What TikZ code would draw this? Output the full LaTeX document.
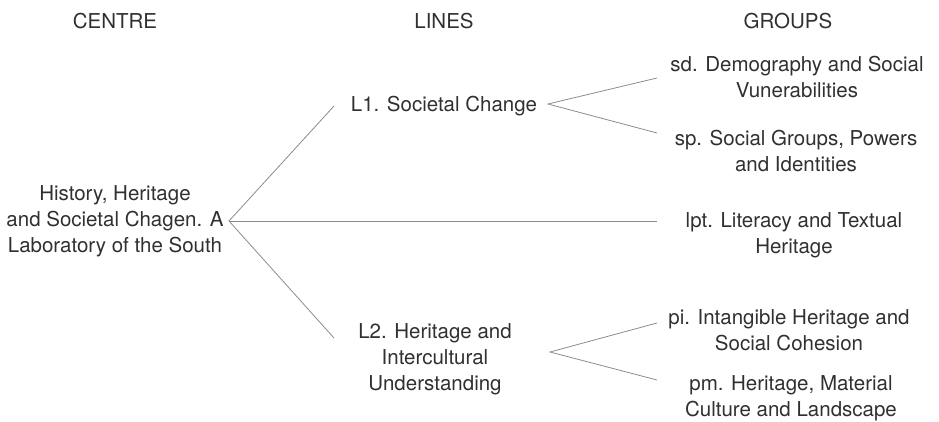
\documentclass[tikz,border=0pt]{standalone}
\usepackage{fontspec}
\setmainfont{TeX Gyre Heros}
\definecolor{textc}{HTML}{303030}
\definecolor{linec}{HTML}{8C8C8C}
\begin{document}
\begin{tikzpicture}[x=1pt,y=-1pt,
  txt/.style={font=\fontsize{20.5}{26}\selectfont, text=textc, align=center, inner sep=0pt, anchor=base},
  link/.style={draw=linec, line width=0.8pt}]
\useasboundingbox (0,0) rectangle (939,422);
% headers
\node[txt] (hc) at (115,29) {CENTRE};
\node[txt] (hl) at (444,29) {LINES};
\node[txt] (hg) at (788,29) {GROUPS};
% nodes (anchor = baseline of the last line)
\node[txt] (centre) at (115,252) {History, Heritage\\and Societal Chagen. A\\Laboratory of the South};
\node[txt] (l1) at (444,112) {L1. Societal Change};
\node[txt] (l2) at (435,390) {L2. Heritage and\\Intercultural\\Understanding};
\node[txt] (sd) at (797,98) {sd. Demography and Social\\Vunerabilities};
\node[txt] (sp) at (796,172) {sp. Social Groups, Powers\\and Identities};
\node[txt] (lpt) at (794,253) {lpt. Literacy and Textual\\Heritage};
\node[txt] (pi) at (789,350) {pi. Intangible Heritage and\\Social Cohesion};
\node[txt] (pm) at (791,416) {pm. Heritage, Material\\Culture and Landscape};
% connector end points
\coordinate (ctip) at (229,221);
\coordinate (l1in) at (334,106);
\coordinate (lptin) at (657,221);
\coordinate (l2in) at (334,338);
\coordinate (l1tip) at (548,104);
\coordinate (sdin) at (657,78);
\coordinate (spin) at (657,133);
\coordinate (l2tip) at (550,352);
\coordinate (piin) at (657,323);
\coordinate (pmin) at (657,380);
% connectors
\draw[link] (l1in) -- (ctip) -- (l2in);
\draw[link] (ctip) -- (lptin);
\draw[link] (sdin) -- (l1tip) -- (spin);
\draw[link] (piin) -- (l2tip) -- (pmin);
\end{tikzpicture}
\end{document}
